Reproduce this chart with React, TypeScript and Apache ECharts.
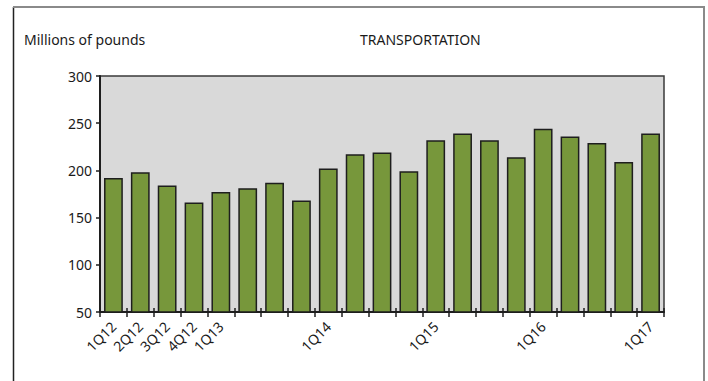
import React, { useEffect, useRef } from "react";
import * as echarts from "echarts";

// Quarterly transportation volume, millions of pounds
const quarters = [
  "1Q12", "2Q12", "3Q12", "4Q12",
  "1Q13", "2Q13", "3Q13", "4Q13",
  "1Q14", "2Q14", "3Q14", "4Q14",
  "1Q15", "2Q15", "3Q15", "4Q15",
  "1Q16", "2Q16", "3Q16", "4Q16",
  "1Q17",
];
const volumes = [
  192, 198, 184, 166,
  177, 181, 187, 168,
  202, 217, 219, 199,
  232, 239, 232, 214,
  244, 236, 229, 209,
  239,
];
// Quarters whose names are printed under the axis
const labeledQuarters = ["1Q12", "2Q12", "3Q12", "4Q12", "1Q13", "1Q14", "1Q15", "1Q16", "1Q17"];

const yTicks = { min: 50, max: 300, interval: 50 };
const FONT = "'Noto Sans', 'DejaVu Sans', sans-serif";

export default function App() {
  const ref = useRef<HTMLDivElement>(null);

  useEffect(() => {
    if (!ref.current) return;
    const chart = echarts.init(ref.current, null, { renderer: "svg" });
    const showLabel = (i: number) => labeledQuarters.includes(quarters[i]);

    chart.setOption({
      animation: false,
      backgroundColor: "#ffffff",
      textStyle: { fontFamily: FONT },
      grid: {
        left: 100,
        top: 76,
        right: 44,
        bottom: 69,
        show: true,
        backgroundColor: "#d9d9d9",
        borderColor: "#3a3a3a",
        borderWidth: 1.5,
      },
      graphic: [
        {
          type: "line",
          shape: { x1: 13.5, y1: 7, x2: 13.5, y2: 381 },
          style: { stroke: "#222", lineWidth: 1.5 },
        },
        {
          type: "line",
          shape: { x1: 13, y1: 7, x2: 705, y2: 7 },
          style: { stroke: "#8a8a8a", lineWidth: 2 },
        },
        {
          type: "line",
          shape: { x1: 704, y1: 7, x2: 704, y2: 381 },
          style: { stroke: "#8a8a8a", lineWidth: 2 },
        },
        {
          type: "text",
          left: 24,
          top: 32,
          style: { text: "Millions of pounds", fontFamily: FONT, fontSize: 14, fill: "#1a1a1a" },
        },
        {
          type: "text",
          left: 360,
          top: 32,
          style: { text: "TRANSPORTATION", fontFamily: FONT, fontSize: 14, fill: "#1a1a1a" },
        },
      ],
      xAxis: [
        {
          type: "category",
          data: quarters,
          position: "bottom",
          axisLine: { show: true, lineStyle: { color: "#1e1e1e", width: 2 } },
          axisTick: { show: true, interval: 0, length: 5, lineStyle: { color: "#1e1e1e", width: 1.5 } },
          axisLabel: {
            interval: (i: number) => showLabel(i),
            rotate: 45,
            margin: 12,
            fontFamily: FONT,
            fontSize: 14,
            color: "#1a1a1a",
          },
          splitLine: { show: false },
        },
        {
          type: "category",
          data: quarters,
          position: "bottom",
          axisLine: { show: false },
          axisTick: { show: true, inside: true, interval: 0, length: 4, lineStyle: { color: "#1e1e1e", width: 1.5 } },
          axisLabel: { show: false },
          splitLine: { show: false },
        },
      ],
      yAxis: {
        type: "value",
        min: yTicks.min,
        max: yTicks.max,
        interval: yTicks.interval,
        axisLine: { show: true, lineStyle: { color: "#1e1e1e", width: 2 } },
        axisTick: { show: true, length: 4, lineStyle: { color: "#1e1e1e", width: 1.5 } },
        axisLabel: { margin: 8, fontFamily: FONT, fontSize: 14, color: "#1a1a1a" },
        splitLine: { show: false },
      },
      series: [
        {
          type: "bar",
          xAxisIndex: 0,
          data: volumes,
          barCategoryGap: "30%",
          itemStyle: { color: "#77973b", borderColor: "#1e1e1e", borderWidth: 1.5 },
        },
      ],
    });

    return () => chart.dispose();
  }, []);

  return (
    <div
      ref={ref}
      style={{ position: "fixed", left: 0, top: 0, width: 708, height: 381 }}
    />
  );
}
